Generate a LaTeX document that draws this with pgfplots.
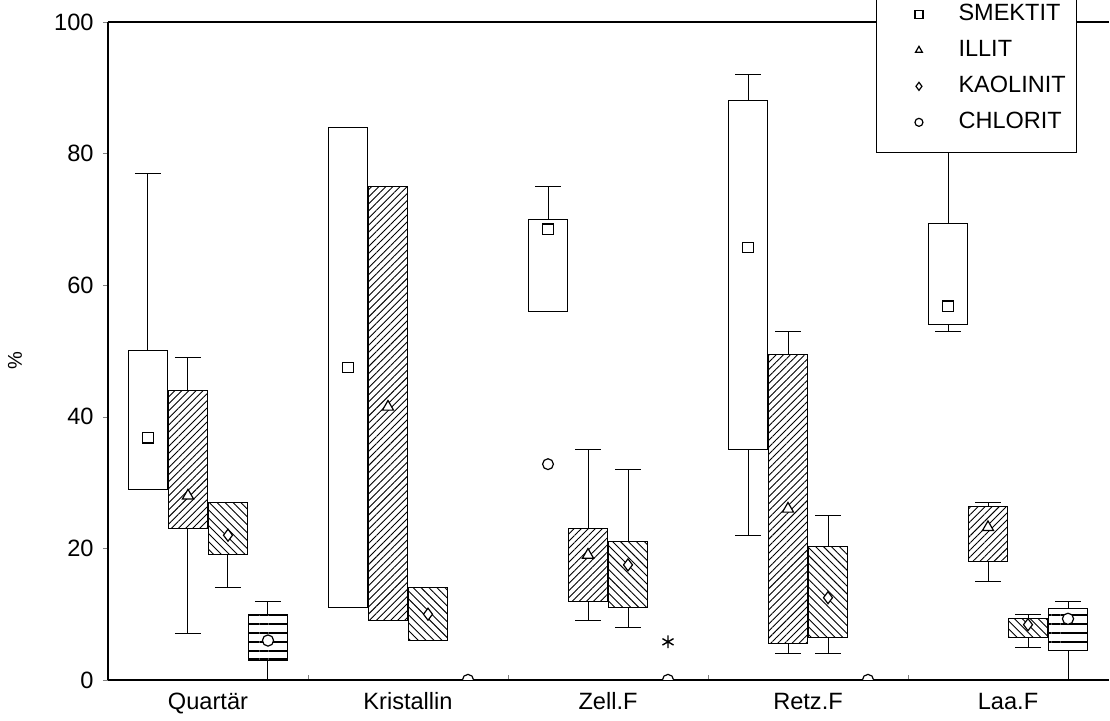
\documentclass[border=0pt]{standalone}
\usepackage{fontspec}
\setmainfont{Liberation Sans}
\usepackage{pgfplots}
\pgfplotsset{compat=1.18}
\usepgfplotslibrary{statistics}
\usetikzlibrary{patterns.meta}

\pgfplotsset{
  bx/.style={black, line width=0.5pt, forget plot,
    boxplot/draw direction=y,
    boxplot/box extend=0.195, boxplot/whisker extend=0.13,
    boxplot/every median/.style={draw=none}},
  smek/.style={bx, boxplot/every box/.style={draw=black, fill=white}},
  illi/.style={bx, boxplot/every box/.style={draw=black, pattern={Lines[angle=45,distance=2.5pt,line width=0.45pt]}}},
  kaol/.style={bx, boxplot/every box/.style={draw=black, pattern={Lines[angle=-45,distance=2.8pt,line width=0.45pt]}}},
  chlo/.style={bx, boxplot/every box/.style={draw=black, pattern={Lines[angle=0,distance=4.4pt,line width=1pt]}}},
}

\begin{document}
\begin{tikzpicture}
\begin{axis}[
  scale only axis, width=500.5pt, height=329pt,
  xmin=-0.5, xmax=4.505, ymin=0, ymax=100,
  axis x line=box, axis y line=left,
  x axis line style={-}, y axis line style={-},
  axis line style={line width=0.6pt},
  clip marker paths=true,
  xtick={0.5,1.5,2.5,3.5}, xticklabels={},
  extra x ticks={0,1,2,3,4},
  extra x tick labels={Quartär,Kristallin,Zell.F,Retz.F,Laa.F},
  extra x tick style={major tick length=0pt},
  xtick pos=left, ytick pos=left,
  xtick align=inside, ytick align=outside,
  major tick length=2.5pt,
  ytick={0,20,40,60,80,100},
  /pgf/number format/assume math mode=true,
  tick label style={font=\fontsize{11.8}{13}\selectfont},
  xticklabel style={anchor=north, yshift=-2.2pt, text height=9pt, text depth=2.5pt},
  yticklabel style={xshift=-1.2pt},
  ylabel={\%},
  ylabel style={font=\fontsize{13}{15}\selectfont},
  every axis y label/.style={at={(axis description cs:-0.093,0.486)}, anchor=center, rotate=90},
  legend style={at={(rel axis cs:0.767,0.801)}, anchor=south west, draw=black, fill=white,
    line width=0.6pt, inner xsep=0pt, inner ysep=9pt, row sep=6pt, column sep=10.5pt,
    font=\fontsize{11.75}{14}\selectfont,
    nodes={inner sep=0pt, text height=9pt, text depth=3pt, text width=59pt}},
  legend cell align=left,
  legend image code/.code={\path (-21pt,0pt) (9pt,0pt); \draw[#1, mark size=2pt] plot coordinates {(0pt,0pt)};},
]
% ---- Quartaer (0)
\addplot[smek, boxplot prepared={lower whisker=29, lower quartile=29, median=36.8, upper quartile=50, upper whisker=77, draw position=-0.3}] coordinates {};
\addplot[illi, boxplot prepared={lower whisker=7, lower quartile=23, median=28, upper quartile=44, upper whisker=49, draw position=-0.1}] coordinates {};
\addplot[kaol, boxplot prepared={lower whisker=14, lower quartile=19, median=22, upper quartile=27, upper whisker=27, draw position=0.1}] coordinates {};
\addplot[chlo, boxplot prepared={lower whisker=0, lower quartile=3, median=6, upper quartile=10, upper whisker=12, draw position=0.3}] coordinates {};
% ---- Kristallin (1)
\addplot[smek, boxplot prepared={lower whisker=11, lower quartile=11, median=47.5, upper quartile=84, upper whisker=84, draw position=0.7}] coordinates {};
\addplot[illi, boxplot prepared={lower whisker=9, lower quartile=9, median=41.5, upper quartile=75, upper whisker=75, draw position=0.9}] coordinates {};
\addplot[kaol, boxplot prepared={lower whisker=6, lower quartile=6, median=10, upper quartile=14, upper whisker=14, draw position=1.1}] coordinates {};
% ---- Zell.F (2)
\addplot[smek, boxplot prepared={lower whisker=56, lower quartile=56, median=68.5, upper quartile=70, upper whisker=75, draw position=1.7}] coordinates {};
\addplot[illi, boxplot prepared={lower whisker=9, lower quartile=12, median=19, upper quartile=23, upper whisker=35, draw position=1.9}] coordinates {};
\addplot[kaol, boxplot prepared={lower whisker=8, lower quartile=11, median=17.5, upper quartile=21, upper whisker=32, draw position=2.1}] coordinates {};
% ---- Retz.F (3)
\addplot[smek, boxplot prepared={lower whisker=22, lower quartile=35, median=65.7, upper quartile=88, upper whisker=92, draw position=2.7}] coordinates {};
\addplot[illi, boxplot prepared={lower whisker=4, lower quartile=5.5, median=26, upper quartile=49.5, upper whisker=53, draw position=2.9}] coordinates {};
\addplot[kaol, boxplot prepared={lower whisker=4, lower quartile=6.5, median=12.5, upper quartile=20.3, upper whisker=25, draw position=3.1}] coordinates {};
% ---- Laa.F (4)
\addplot[smek, boxplot prepared={lower whisker=53, lower quartile=54, median=56.8, upper quartile=69.3, upper whisker=86, draw position=3.7}] coordinates {};
\addplot[illi, boxplot prepared={lower whisker=15, lower quartile=18, median=23.2, upper quartile=26.4, upper whisker=27, draw position=3.9}] coordinates {};
\addplot[kaol, boxplot prepared={lower whisker=5, lower quartile=6.5, median=8.4, upper quartile=9.4, upper whisker=10, draw position=4.1}] coordinates {};
\addplot[chlo, boxplot prepared={lower whisker=0, lower quartile=4.5, median=9.3, upper quartile=10.9, upper whisker=12, draw position=4.3}] coordinates {};
% ---- outliers / extremes
\addplot[forget plot, only marks, mark=o, mark size=2.7pt, mark options={black, fill=white, line width=0.6pt}] coordinates {(1.7,32.8)};
\addplot[forget plot, only marks, mark=asterisk, mark size=3.2pt, mark options={black, line width=0.7pt}] coordinates {(2.3,5.8)};
% ---- medians (legend)
\addplot[only marks, mark=square*, mark size=2.6pt, mark options={black, fill=white, line width=0.6pt}]
  coordinates {(-0.3,36.8) (0.7,47.5) (1.7,68.5) (2.7,65.7) (3.7,56.8)};
\addlegendentry{SMEKTIT}
\addplot[only marks, mark=triangle*, mark size=3.2pt, mark options={black, fill=white, line width=0.6pt}]
  coordinates {(-0.1,28) (0.9,41.5) (1.9,19) (2.9,26) (3.9,23.2)};
\addlegendentry{ILLIT}
\addplot[only marks, mark=diamond*, mark size=3pt, mark options={black, fill=white, line width=0.6pt}]
  coordinates {(0.1,22) (1.1,10) (2.1,17.5) (3.1,12.5) (4.1,8.4)};
\addlegendentry{KAOLINIT}
\addplot[only marks, mark=*, mark size=2.8pt, mark options={black, fill=white, line width=0.6pt}]
  coordinates {(0.3,6) (1.3,0) (2.3,0) (3.3,0) (4.3,9.3)};
\addlegendentry{CHLORIT}
\end{axis}
\pgfresetboundingbox
\path[use as bounding box] (-54pt,-20.5pt) rectangle (501pt,340pt);
\end{tikzpicture}
\end{document}
